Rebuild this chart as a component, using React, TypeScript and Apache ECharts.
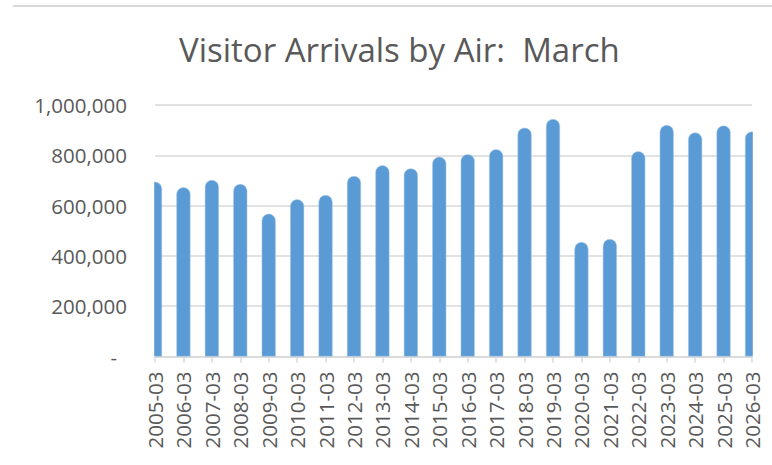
import React, { useEffect, useRef } from "react";
import * as echarts from "echarts";

const categories = [
  "2005-03", "2006-03", "2007-03", "2008-03", "2009-03", "2010-03", "2011-03",
  "2012-03", "2013-03", "2014-03", "2015-03", "2016-03", "2017-03", "2018-03",
  "2019-03", "2020-03", "2021-03", "2022-03", "2023-03", "2024-03", "2025-03", "2026-03",
];
const arrivals = [
  695000, 673000, 702000, 686000, 568000, 625000, 642000,
  718000, 760000, 748000, 794000, 804000, 824000, 910000,
  944000, 455000, 467000, 816000, 920000, 891000, 918000, 895000,
];
const titleText = "Visitor Arrivals by Air:  March";

export default function App() {
  const ref = useRef<HTMLDivElement>(null);
  useEffect(() => {
    if (!ref.current) return;
    const chart = echarts.init(ref.current, null, { renderer: "svg" });
    const font = "'Open Sans', sans-serif";
    const gridLeft = 155;
    const gridRight = 20;
    const gridTop = 105;
    const gridBottom = 108.5;
    const W = 772;
    const H = 465;
    const plotBottom = H - gridBottom;
    chart.setOption({
      animation: false,
      backgroundColor: "#ffffff",
      title: {
        text: titleText,
        left: 174,
        top: 28,
        textStyle: { fontFamily: font, fontSize: 33, fontWeight: "normal", color: "#595959" },
      },
      graphic: [
        {
          type: "line",
          shape: { x1: 13, y1: 6, x2: W, y2: 6 },
          style: { stroke: "#d9d9d9", lineWidth: 2 },
        },
        // masks trimming the half-bars that overflow the plot area (Excel "on tick marks")
        {
          type: "rect",
          z: 100,
          shape: { x: gridLeft - 20, y: gridTop - 10, width: 19.2, height: plotBottom - gridTop + 14 },
          style: { fill: "#ffffff" },
        },
        {
          type: "rect",
          z: 100,
          shape: { x: W - gridRight + 0.8, y: gridTop - 10, width: gridRight, height: plotBottom - gridTop + 14 },
          style: { fill: "#ffffff" },
        },
      ],
      grid: { left: gridLeft, right: gridRight, top: gridTop, bottom: gridBottom, containLabel: false },
      xAxis: {
        type: "category",
        data: categories,
        boundaryGap: false,
        axisLine: { show: true, lineStyle: { color: "#d9d9d9", width: 1.5 } },
        axisTick: { show: true, alignWithLabel: true, length: 6, lineStyle: { color: "#d9d9d9", width: 1.5 } },
        axisLabel: {
          rotate: 90,
          interval: 0,
          margin: 15,
          fontFamily: font,
          fontSize: 20.5,
          color: "#595959",
        },
      },
      yAxis: {
        type: "value",
        min: 0,
        max: 1000000,
        interval: 200000,
        axisLine: { show: false },
        axisTick: { show: false },
        splitLine: { lineStyle: { color: "#d9d9d9", width: 1.5 } },
        axisLabel: {
          margin: 28,
          fontFamily: font,
          fontSize: 20.5,
          color: "#595959",
          formatter: (v: number) =>
            v === 0 ? "{z|-}" : v.toLocaleString("en-US"),
          rich: {
            z: { fontFamily: font, fontSize: 20.5, color: "#595959", padding: [0, 10, 0, 0] },
          },
        },
      },
      series: [
        {
          type: "bar",
          data: arrivals,
          barWidth: 14,
          itemStyle: {
            color: "#5b9bd5",
            borderRadius: [7, 7, 0, 0],
            borderColor: "#a9c8e8",
            borderWidth: 0.5,
          },
        },
      ],
    });
    return () => chart.dispose();
  }, []);
  return <div ref={ref} style={{ width: 772, height: 465, position: "absolute", left: 0, top: 0 }} />;
}
